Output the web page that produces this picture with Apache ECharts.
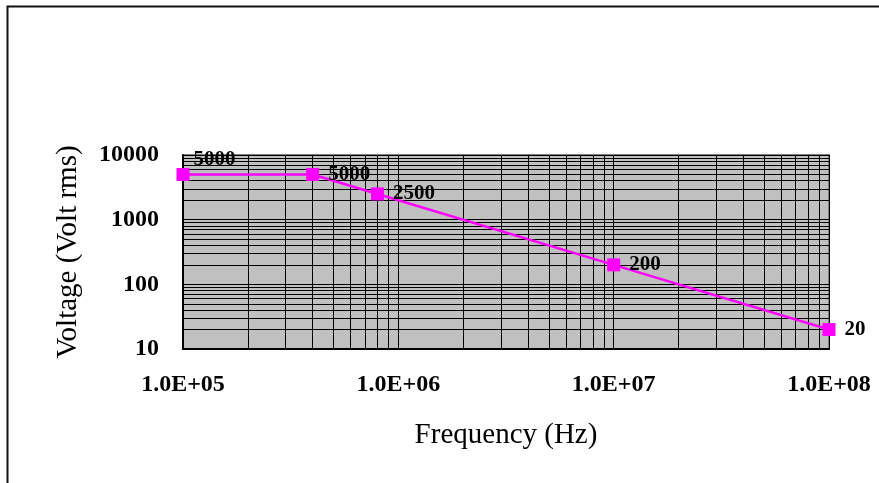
<!DOCTYPE html>
<html>
<head>
<meta charset="utf-8">
<script src="https://cdn.jsdelivr.net/npm/echarts@6/dist/echarts.min.js"></script>
<style>
html,body{margin:0;padding:0;background:#fff;}
#chart{width:879px;height:483px;}
</style>
</head>
<body>
<div id="chart"></div>
<script>
// ---- data ----
const frequency = [1e5, 4e5, 8e5, 1e7, 1e8];
const voltage = [5000, 5000, 2500, 200, 20];
const xTickLabels = ['1.0E+05', '1.0E+06', '1.0E+07', '1.0E+08'];
const yTickLabels = ['10', '100', '1000', '10000'];
const xDecades = [1e5, 1e6, 1e7];
const yDecades = [10, 100, 1000];
const minorMultipliers = [2, 3, 4, 5, 6, 7, 8, 9];

const FONT = "'Liberation Serif', 'Times New Roman', serif";

const gridLineData = [];
xDecades.forEach(d => minorMultipliers.forEach(m => gridLineData.push({ xAxis: d * m })));
yDecades.forEach(d => minorMultipliers.forEach(m => gridLineData.push({ yAxis: d * m })));

const points = frequency.map((f, i) => [f, voltage[i]]);

const chart = echarts.init(document.getElementById('chart'), null, { renderer: 'canvas' });
chart.setOption({
  animation: false,
  backgroundColor: '#ffffff',
  graphic: [{
    type: 'polyline',
    shape: { points: [[7.5, 483], [7.5, 6.5], [879, 6.5]] },
    style: { stroke: '#111', lineWidth: 2, fill: null },
    silent: true
  }],
  grid: {
    left: 183, top: 155, width: 646, height: 194,
    show: true, backgroundColor: '#c0c0c0', borderColor: '#808080', borderWidth: 2
  },
  xAxis: {
    type: 'log', logBase: 10, min: 1e5, max: 1e8,
    name: 'Frequency (Hz)', nameLocation: 'middle', nameGap: 72,
    nameTextStyle: { fontFamily: FONT, fontSize: 29, color: '#000' },
    axisLine: { show: true, lineStyle: { color: '#000', width: 2 } },
    axisTick: { show: false },
    axisLabel: {
      margin: 24, color: '#000', fontFamily: FONT, fontSize: 24, fontWeight: 'bold',
      formatter: v => xTickLabels[Math.round(Math.log10(v)) - 5]
    },
    splitLine: { show: true, lineStyle: { color: '#000', width: 1 } }
  },
  yAxis: {
    type: 'log', logBase: 10, min: 10, max: 10000,
    name: 'Voltage (Volt rms)', nameLocation: 'middle', nameGap: 100, nameRotate: 90,
    nameTextStyle: { fontFamily: FONT, fontSize: 29, color: '#000' },
    axisLine: { show: true, lineStyle: { color: '#000', width: 2 } },
    axisTick: { show: false },
    axisLabel: {
      margin: 24, color: '#000', fontFamily: FONT, fontSize: 24, fontWeight: 'bold',
      formatter: v => yTickLabels[Math.round(Math.log10(v)) - 1]
    },
    splitLine: { show: true, lineStyle: { color: '#000', width: 1 } }
  },
  series: [
    {
      type: 'line', data: [], silent: true, z: 1,
      markLine: {
        silent: true, symbol: ['none', 'none'], animation: false,
        label: { show: false },
        lineStyle: { color: '#000', width: 1, type: 'solid' },
        emphasis: { disabled: true },
        data: gridLineData
      }
    },
    {
      type: 'line', z: 5,
      data: points,
      symbol: 'rect', symbolSize: 13,
      itemStyle: { color: '#ff00ff' },
      lineStyle: { color: '#ff00ff', width: 2.5 },
      label: {
        show: true, position: 'right', distance: 9,
        color: '#000', fontFamily: FONT, fontSize: 21, fontWeight: 'bold',
        formatter: p => String(p.value[1])
      },
      labelLayout: p => p.dataIndex === 0 ? { dx: -5, dy: -15 } : {}
    }
  ]
});
</script>
</body>
</html>
